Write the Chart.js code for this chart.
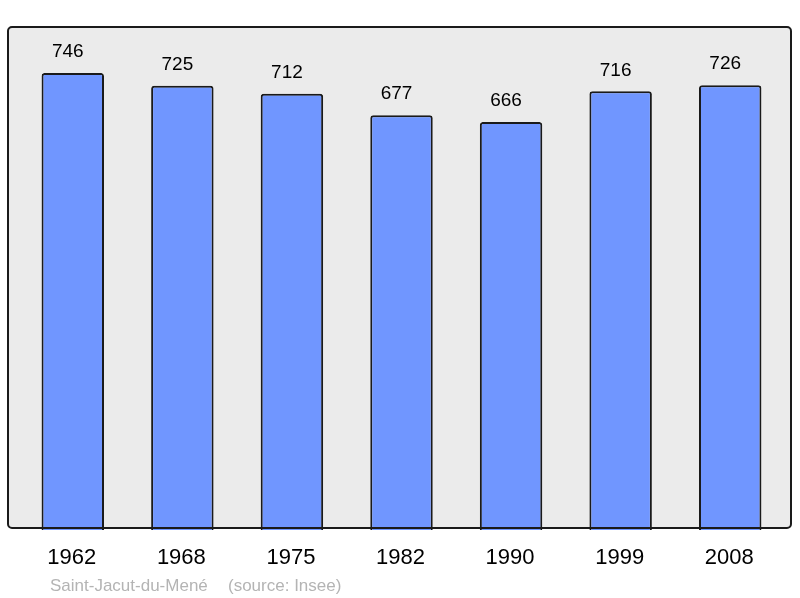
<!DOCTYPE html>
<html>
<head>
<meta charset="utf-8">
<script src="https://cdn.jsdelivr.net/npm/chart.js@4/dist/chart.umd.min.js"></script>
<style>
    html, body { margin: 0; padding: 0; background: #ffffff; }
    #wrap { width: 800px; height: 598px; }
</style>
</head>
<body>
<div id="wrap"><canvas id="chartPop"></canvas></div>
<script>
/* ============================================================
   Données – population
   ============================================================ */
const annees = ["1962", "1968", "1975", "1982", "1990", "1999", "2008"];
const population = [746, 725, 712, 677, 666, 716, 726];
const commune = "Saint-Jacut-du-Mené";
const source = "(source: Insee)";

/* ============================================================
   Plugin : cadre gris, valeurs, années, légende
   ============================================================ */
const cadrePlugin = {
    id: "cadre",
    beforeDatasetsDraw(chart) {
        const ca = chart.chartArea;
        const ctx = chart.ctx;
        ctx.save();
        ctx.fillStyle = "#ebebeb";
        ctx.beginPath();
        ctx.roundRect(ca.left - 10, ca.top, ca.right - ca.left + 16, ca.bottom - ca.top - 2, 4);
        ctx.fill();
        ctx.restore();
    },
    afterDatasetsDraw(chart) {
        const ca = chart.chartArea;
        const ctx = chart.ctx;
        const meta = chart.getDatasetMeta(0);
        const xScale = chart.scales.x;

        ctx.save();
        ctx.strokeStyle = "#1a1a1a";
        ctx.lineWidth = 2;
        ctx.beginPath();
        ctx.roundRect(ca.left - 10, ca.top, ca.right - ca.left + 16, ca.bottom - ca.top - 2, 4);
        ctx.stroke();

        // valeurs au-dessus des barres
        ctx.fillStyle = "#000";
        ctx.textAlign = "center";
        ctx.textBaseline = "middle";
        ctx.font = "19px 'Liberation Sans', Arial, sans-serif";
        meta.data.forEach((bar, i) => {
            ctx.fillText(String(population[i]), bar.x - 5, bar.y - 21);
        });

        // années
        ctx.font = "22px 'Liberation Sans', Arial, sans-serif";
        annees.forEach((a, i) => {
            ctx.fillText(a, xScale.getPixelForValue(i) - 1, ca.bottom + 28);
        });

        // légende
        ctx.fillStyle = "#b4b4b4";
        ctx.textAlign = "left";
        ctx.font = "17px 'Liberation Sans', Arial, sans-serif";
        ctx.fillText(commune, ca.left + 32, ca.bottom + 56);
        ctx.fillText(source, ca.left + 210, ca.bottom + 56);
        ctx.restore();
    }
};

/* ============================================================
   Graphique
   ============================================================ */
new Chart(document.getElementById("chartPop"), {
    type: "bar",
    data: {
        labels: annees,
        datasets: [{
            data: population,
            backgroundColor: "#7096ff",
            borderColor: "#1a1a1a",
            borderWidth: 2,
            borderRadius: { topLeft: 3, topRight: 3 },
            borderSkipped: "start",
            categoryPercentage: 1,
            barPercentage: 0.57
        }]
    },
    options: {
        responsive: true,
        maintainAspectRatio: false,
        animation: false,
        layout: { padding: { left: 18, right: 15, top: 27, bottom: 68 } },
        plugins: {
            legend: { display: false },
            tooltip: { enabled: false }
        },
        scales: {
            x: { display: false },
            y: { display: false, min: 0, max: 821 }
        }
    },
    plugins: [cadrePlugin]
});
</script>
</body>
</html>
